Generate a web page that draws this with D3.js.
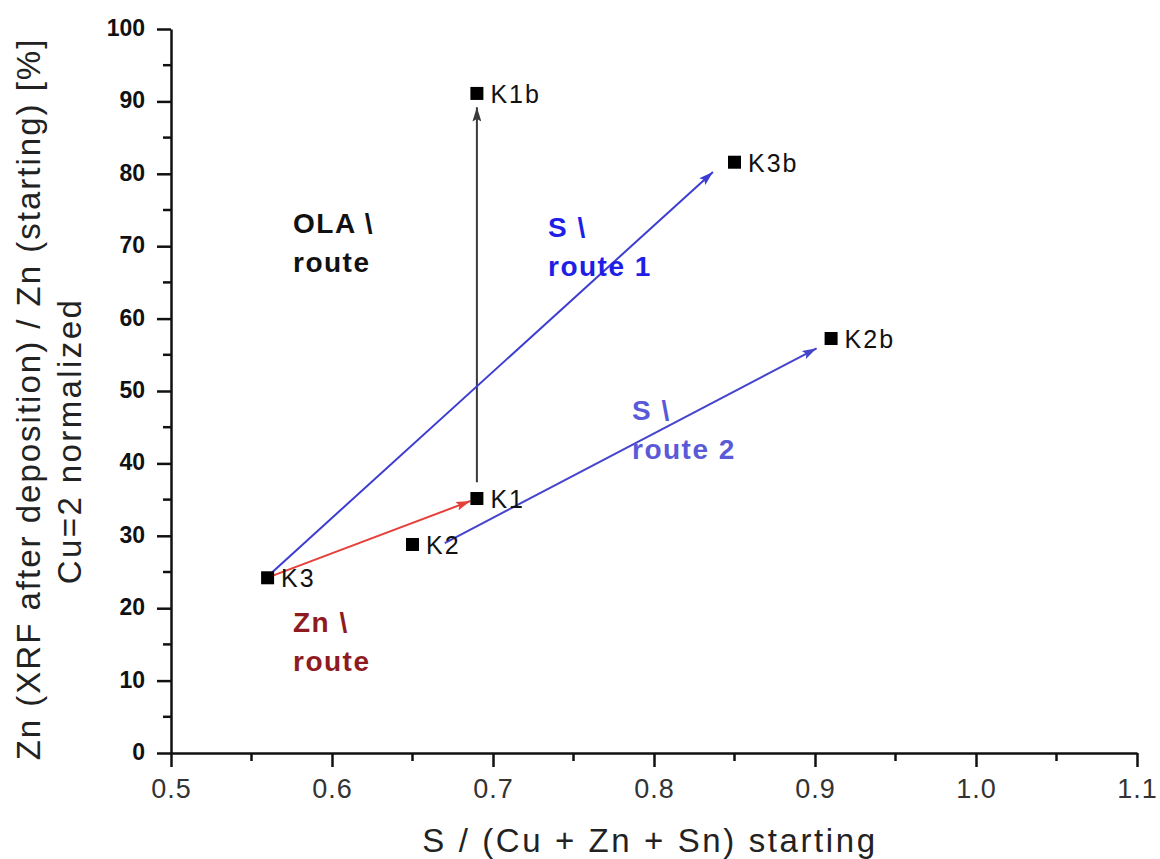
<!DOCTYPE html>
<html><head><meta charset="utf-8">
<script src="https://cdn.jsdelivr.net/npm/d3@7"></script>
<style>body{margin:0;background:#fff}svg{display:block}text{font-family:"Liberation Sans",Arial,Helvetica,sans-serif}</style>
</head><body>
<script>
// Data
const sampleNames = ["K1b","K3b","K2b","K1","K2","K3"];
const sampleX = [0.69, 0.85, 0.91, 0.69, 0.65, 0.56];
const sampleY = [91.1, 81.6, 57.25, 35.15, 28.8, 24.2];

const arrowNames = ["OLA","S1","S2","Zn"];
const arrowX0 = [0.69, 0.561, 0.670, 0.562];
const arrowY0 = [37.4, 24.6, 29.0, 24.4];
const arrowX1 = [0.69, 0.8366, 0.901, 0.686];
const arrowY1 = [89.2, 80.25, 55.9, 34.8];
const arrowColors = ["#3a3a3a", "#3c3cd2", "#4444cc", "#e5403a"];

const routeLabelLine1 = ["OLA \\", "S \\", "S \\", "Zn \\"];
const routeLabelLine2 = ["route", "route 1", "route 2", "route"];
const routeLabelX = [0.7545, 0.7355, 0.7896, 0.7565]; // placeholder unused
const routeLabelColors = ["#111111", "#1e1ee6", "#5a5ad8", "#8e1b1f"];

const xTicks = [0.5, 0.6, 0.7, 0.8, 0.9, 1.0, 1.1];
const xTickLabels = ["0.5","0.6","0.7","0.8","0.9","1.0","1.1"];
const yTicks = [0,10,20,30,40,50,60,70,80,90,100];

const W = 1160, H = 859;
const svg = d3.select("body").append("svg").attr("width", W).attr("height", H);

const x = d3.scaleLinear().domain([0.5, 1.1]).range([171, 1137]);
const y = d3.scaleLinear().domain([0, 100]).range([753, 29]);

// Minor ticks
const xMinor = d3.range(0, 6).map(i => 0.55 + i * 0.1);
const yMinor = d3.range(0, 10).map(i => 5 + i * 10);

const axisG = svg.append("g");
// x axis
const xAxis = axisG.append("g").attr("transform", `translate(0,${y(0)})`)
  .call(d3.axisBottom(x).tickValues(xTicks).tickFormat((d,i)=>xTickLabels[i]).tickSize(14).tickPadding(12).tickSizeOuter(0));
xAxis.select(".domain").attr("stroke", "#111").attr("stroke-width", 2.5);
xAxis.selectAll(".tick line").attr("stroke", "#111").attr("stroke-width", 2.5);
xAxis.selectAll(".tick text").attr("font-size", 27).attr("fill", "#333").attr("letter-spacing", 1).attr("dy", "0.71em");
xAxis.append("g").selectAll("line").data(xMinor).join("line")
  .attr("x1", d => x(d)).attr("x2", d => x(d)).attr("y1", 0).attr("y2", 8)
  .attr("stroke", "#111").attr("stroke-width", 2.5);

// y axis
const yAxis = axisG.append("g").attr("transform", `translate(${x(0.5)},0)`)
  .call(d3.axisLeft(y).tickValues(yTicks).tickSize(14).tickPadding(12).tickSizeOuter(0));
yAxis.select(".domain").attr("stroke", "#111").attr("stroke-width", 2.5);
yAxis.selectAll(".tick line").attr("stroke", "#111").attr("stroke-width", 2.5);
yAxis.selectAll(".tick text").attr("font-size", 23).attr("font-weight", "bold").attr("fill", "#111").attr("dy", "0.28em");
yAxis.append("g").selectAll("line").data(yMinor).join("line")
  .attr("y1", d => y(d)).attr("y2", d => y(d)).attr("x1", 0).attr("x2", -8)
  .attr("stroke", "#111").attr("stroke-width", 2.5);

// Axis titles
svg.append("text").attr("x", 650).attr("y", 852).attr("text-anchor", "middle")
  .attr("font-size", 33).attr("letter-spacing", 2.6).attr("fill", "#222")
  .text("S / (Cu + Zn + Sn) starting");
svg.append("text").attr("transform", "translate(40,399) rotate(-90)").attr("text-anchor", "middle")
  .attr("font-size", 33).attr("letter-spacing", 2.0).attr("fill", "#222")
  .text("Zn (XRF after deposition) / Zn (starting) [%]");
svg.append("text").attr("transform", "translate(81,441) rotate(-90)").attr("text-anchor", "middle")
  .attr("font-size", 33).attr("letter-spacing", 2.4).attr("fill", "#222")
  .text("Cu=2 normalized");

// Arrow markers
const defs = svg.append("defs");
arrowNames.forEach((n, i) => {
  defs.append("marker").attr("id", "arr" + i)
    .attr("viewBox", "0 0 16 10").attr("refX", 16).attr("refY", 5)
    .attr("markerWidth", 16).attr("markerHeight", 9).attr("markerUnits", "userSpaceOnUse")
    .attr("orient", "auto")
    .append("path").attr("d", "M0,0 L16,5 L0,10 L3,5 Z").attr("fill", arrowColors[i]);
});

svg.append("g").selectAll("line").data(arrowNames).join("line")
  .attr("x1", (d,i) => x(arrowX0[i])).attr("y1", (d,i) => y(arrowY0[i]))
  .attr("x2", (d,i) => x(arrowX1[i])).attr("y2", (d,i) => y(arrowY1[i]))
  .attr("stroke", (d,i) => arrowColors[i]).attr("stroke-width", 2)
  .attr("marker-end", (d,i) => `url(#arr${i})`);

// Route labels (pixel anchor positions)
const routeLabelPx = [[293, 233], [548, 237], [632, 420], [293, 632]];
const rl = svg.append("g");
routeLabelLine1.forEach((t, i) => {
  const [px, py] = routeLabelPx[i];
  const tx = rl.append("text").attr("x", px).attr("y", py)
    .attr("font-size", 28).attr("font-weight", "bold").attr("letter-spacing", 1.5)
    .attr("fill", routeLabelColors[i]);
  tx.append("tspan").attr("x", px).text(t);
  tx.append("tspan").attr("x", px).attr("dy", 39).text(routeLabelLine2[i]);
});

// Sample markers
const pts = svg.append("g");
pts.selectAll("rect").data(sampleNames).join("rect")
  .attr("x", (d,i) => x(sampleX[i]) - 6.5).attr("y", (d,i) => y(sampleY[i]) - 6.5)
  .attr("width", 13).attr("height", 13).attr("fill", "#000");
pts.selectAll("text").data(sampleNames).join("text")
  .attr("x", (d,i) => x(sampleX[i]) + 13.5).attr("y", (d,i) => y(sampleY[i]) + 9.5)
  .attr("font-size", 25).attr("letter-spacing", 2).attr("fill", "#111")
  .text(d => d);
</script>
</body></html>
